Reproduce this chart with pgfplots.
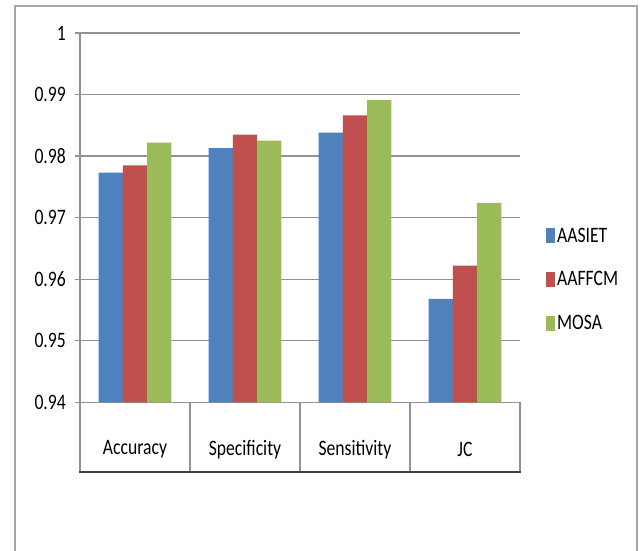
\documentclass[border=0pt]{standalone}
\usepackage{fontspec}
\setmainfont{Carlito}
\usepackage{pgfplots}
\pgfplotsset{compat=1.18}
\usepackage{graphicx}

\definecolor{xlblue}{HTML}{4F81BD}
\definecolor{xlred}{HTML}{C0504D}
\definecolor{xlgreen}{HTML}{9BBB59}
\definecolor{gridgray}{HTML}{929292}
\definecolor{framegray}{HTML}{A6A6A6}

% text in the source is stretched vertically
\newcommand{\tall}[1]{\scalebox{1}[1.25]{#1}}

\begin{document}
\begin{tikzpicture}[x=1bp,y=1bp]
  \useasboundingbox (0,0) rectangle (643,551);
  % outer chart frame (bottom is cut off)
  \draw[framegray, line width=1.2bp] (15,-2) -- (15,545) -- (637,545) -- (637,-2);

  \begin{axis}[
    at={(80bp,148.7bp)}, anchor=south west,
    scale only axis,
    width=440bp, height=369.3bp,
    font=\fontsize{17.7}{20}\selectfont,
    ybar=0pt, bar width=24.3bp,
    xmin=-0.5, xmax=3.5,
    ymin=0.94, ymax=1,
    ytick={0.94,0.95,...,1.001},
    xtick={0,1,2,3},
    xticklabels={\tall{Accuracy},\tall{Specificity},\tall{Sensitivity},\tall{JC}},
    axis lines*=left,
    axis line style={gridgray, line width=1.2bp},
    ymajorgrids,
    grid style={gridgray, line width=1.2bp},
    tick align=outside,
    major tick length=5bp,
    ytick style={gridgray, line width=1.2bp},
    xtick style={draw=none},
    /pgf/number format/assume math mode=true,
    /pgf/number format/.cd, fixed, precision=2, /pgfplots/.cd,
    yticklabel={\tall{\pgfmathprintnumber{\tick}}},
    yticklabel style={anchor=east, inner sep=0pt, xshift=-9bp},
    xticklabel style={anchor=center, inner sep=0pt, yshift=-42bp},
    clip=false,
    legend cell align=left,
    legend style={draw=none, fill=none, at={(1.059,0.3325)}, anchor=west,
      row sep=24bp, inner sep=0pt,
      font=\fontsize{17.7}{20}\selectfont},
    legend image code/.code={\path[#1, draw=none] (0bp,-7.5bp) rectangle (9bp,7.5bp);},
  ]
    \addplot[fill=xlblue, draw=none] coordinates {(0,0.9773) (1,0.9813) (2,0.9838) (3,0.9568)};
    \addplot[fill=xlred, draw=none] coordinates {(0,0.9785) (1,0.9835) (2,0.9866) (3,0.9622)};
    \addplot[fill=xlgreen, draw=none] coordinates {(0,0.9822) (1,0.9825) (2,0.9891) (3,0.9724)};
    \legend{\tall{AASIET},\tall{AAFFCM},\tall{MOSA}}

    % category table below the plot area
    \pgfplotsinvokeforeach{-0.5,0.5,1.5,2.5,3.5}{
      \draw[gridgray, line width=1.2bp] (axis cs:#1,0.94) -- ++(0bp,-69.7bp);
    }
    \draw[black!75, line width=2.2bp] (axis cs:-0.5,0.94) ++(-1bp,-69.7bp) -- ++(442bp,0bp);
  \end{axis}
\end{tikzpicture}
\end{document}
